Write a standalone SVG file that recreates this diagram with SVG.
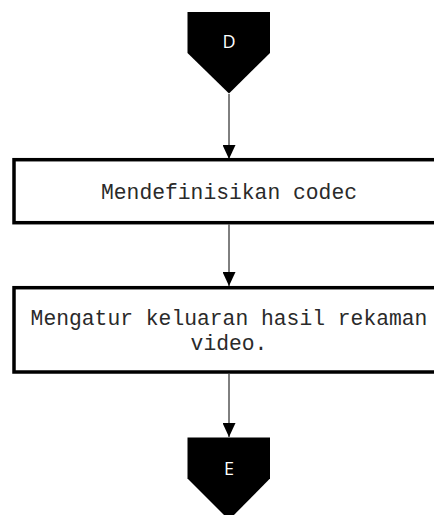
<svg xmlns="http://www.w3.org/2000/svg" width="434" height="515" viewBox="0 0 434 515">
  <defs>
    <style>
      .connector-shape { fill: #000; }
      .connector-label { fill: #fff; font-family: "Open Sans", "DejaVu Sans", sans-serif; font-size: 18px; text-anchor: middle; }
      .process { fill: #fff; stroke: #000; stroke-width: 3.5; }
      .process-label { fill: #2a2a2a; font-family: "Liberation Mono", "Courier New", monospace; font-size: 21.33px; text-anchor: middle; }
      .flow { stroke: #000; stroke-width: 1; fill: none; }
    </style>
    <marker id="arrow" viewBox="0 0 14 13" refX="14" refY="6.5" markerWidth="14" markerHeight="13" markerUnits="userSpaceOnUse" orient="auto">
      <path d="M0,0 L14,6.5 L0,13 Z" fill="#000"/>
    </marker>
  </defs>

  <rect width="434" height="515" fill="#fff"/>

  <!-- off-page connector D -->
  <g id="node-D">
    <polygon class="connector-shape" points="187.5,12 270,12 270,53 229,93.5 187.5,53"/>
    <text class="connector-label" x="229" y="47.5">D</text>
  </g>

  <!-- process: define codec -->
  <g id="node-codec">
    <rect class="process" x="14" y="159.7" width="432" height="63"/>
    <text class="process-label" x="229" y="199.3">Mendefinisikan codec</text>
  </g>

  <!-- process: configure recording output -->
  <g id="node-output">
    <rect class="process" x="14" y="287.7" width="432" height="84.3"/>
    <text class="process-label" x="229" y="325">Mengatur keluaran hasil rekaman</text>
    <text class="process-label" x="229" y="350">video.</text>
  </g>

  <!-- off-page connector E -->
  <g id="node-E">
    <polygon class="connector-shape" points="187.5,437.5 270,437.5 270,478.5 229,520 187.5,478.5"/>
    <text class="connector-label" x="229" y="475">E</text>
  </g>

  <!-- flow lines -->
  <g id="connectors">
    <line class="flow" x1="229" y1="94" x2="229" y2="159" marker-end="url(#arrow)"/>
    <line class="flow" x1="229" y1="224.5" x2="229" y2="286" marker-end="url(#arrow)"/>
    <line class="flow" x1="229" y1="374" x2="229" y2="437" marker-end="url(#arrow)"/>
  </g>
</svg>
